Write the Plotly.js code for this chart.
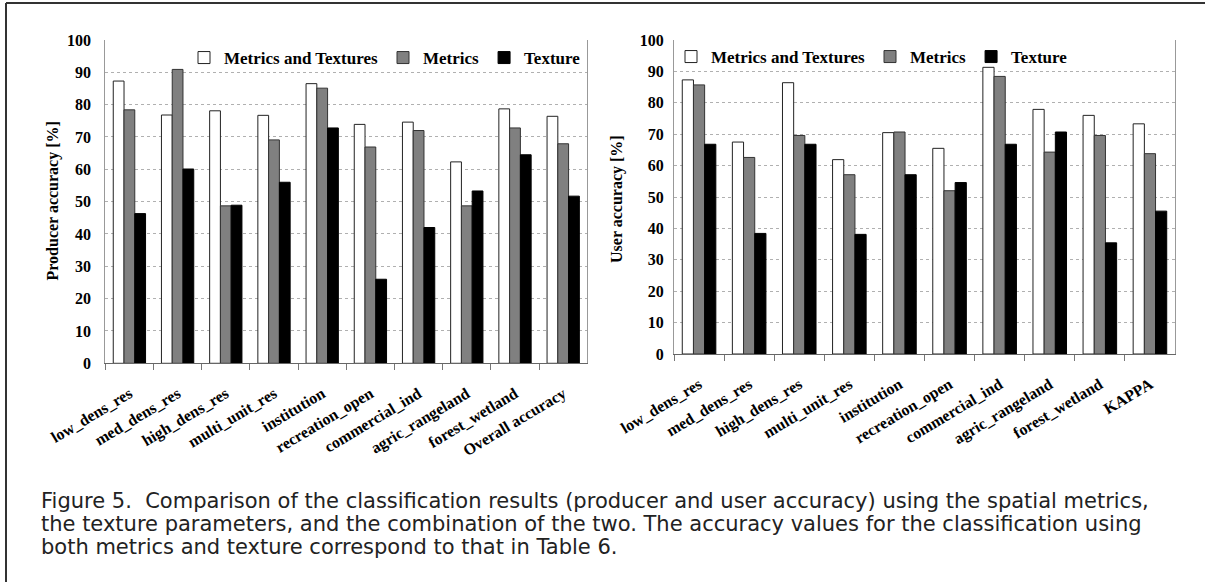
<!DOCTYPE html>
<html>
<head>
<meta charset="utf-8">
<script src="https://cdn.plot.ly/plotly-3.0.1.min.js"></script>
<style>
  html, body { margin: 0; padding: 0; background: #fff; }
  #chart { width: 1205px; height: 582px; }
</style>
</head>
<body>
<div id="chart"></div>
<script>
// ---- data ----
var producerCategories = ["low_dens_res", "med_dens_res", "high_dens_res", "multi_unit_res", "institution",
  "recreation_open", "commercial_ind", "agric_rangeland", "forest_wetland", "Overall accuracy"];
var userCategories = ["low_dens_res", "med_dens_res", "high_dens_res", "multi_unit_res", "institution",
  "recreation_open", "commercial_ind", "agric_rangeland", "forest_wetland", "KAPPA"];
var seriesNames = ["Metrics and Textures", "Metrics", "Texture"];

var producerMetricsTextures = [87.3, 76.8, 78.1, 76.7, 86.5, 73.9, 74.6, 62.3, 78.7, 76.4];
var producerMetrics         = [78.4, 90.9, 48.7, 69.1, 85.1, 66.9, 72.0, 48.7, 72.8, 67.9];
var producerTexture         = [46.3, 60.1, 48.9, 56.0, 72.8, 26.0, 42.0, 53.3, 64.5, 51.7];

var userMetricsTextures = [87.3, 67.5, 86.4, 61.9, 70.5, 65.5, 91.3, 77.9, 76.0, 73.3];
var userMetrics         = [85.7, 62.6, 69.6, 57.1, 70.7, 52.0, 88.4, 64.3, 69.6, 63.8];
var userTexture         = [66.8, 38.4, 66.8, 38.1, 57.1, 54.6, 66.8, 70.7, 35.4, 45.5];

var yTickVals = [0, 10, 20, 30, 40, 50, 60, 70, 80, 90, 100];

var captionLines = [
  "Figure 5.  Comparison of the classification results (producer and user accuracy) using the spatial metrics,",
  "the texture parameters, and the combination of the two. The accuracy values for the classification using",
  "both metrics and texture correspond to that in Table 6."
];

// ---- styles ----
var W = 1205, H = 582;
var serif = "Liberation Serif, Times New Roman, serif";
var fills = ["#ffffff", "#808080", "#000000"];
var edges = ["#222222", "#333333", "#000000"];

function px(x) { return x / W; }
function py(y) { return 1 - y / H; }

var traces = [];
var pData = [producerMetricsTextures, producerMetrics, producerTexture];
var uData = [userMetricsTextures, userMetrics, userTexture];
for (var i = 0; i < 3; i++) {
  traces.push({
    type: "bar", x: producerCategories, y: pData[i], name: seriesNames[i],
    xaxis: "x", yaxis: "y", legend: "legend",
    marker: { color: fills[i], line: { color: edges[i], width: 1 } },
    hoverinfo: "x+y+name"
  });
}
for (var j = 0; j < 3; j++) {
  traces.push({
    type: "bar", x: userCategories, y: uData[j], name: seriesNames[j],
    xaxis: "x2", yaxis: "y2", legend: "legend2",
    marker: { color: fills[j], line: { color: edges[j], width: 1 } },
    hoverinfo: "x+y+name"
  });
}

var tickFont = { family: serif, size: 16, color: "#000", weight: "bold" };

function xAxis(domain, anchor) {
  return {
    domain: domain, anchor: anchor, type: "category",
    showline: true, linecolor: "#666", linewidth: 1,
    ticks: "outside", tickson: "boundaries", ticklen: 6, tickcolor: "#777",
    tickangle: -31, tickfont: tickFont, ticklabelstandoff: 14,
    showgrid: false, zeroline: false, fixedrange: true
  };
}
function yAxis(domain, anchor, standoff) {
  return {
    domain: domain, anchor: anchor, range: [0, 100], tickvals: yTickVals,
    showline: true, linecolor: "#999", linewidth: 1, mirror: true,
    ticks: "", tickfont: tickFont, ticklabelstandoff: standoff,
    showgrid: true, gridcolor: "#b0b0b0", griddash: "dot", gridwidth: 1,
    zeroline: false, fixedrange: true
  };
}

var legendFont = { family: serif, size: 17, color: "#000", weight: "bold" };

var annotations = [
  { text: "Producer accuracy [%]", xref: "paper", yref: "paper", x: px(52), y: py(201.5),
    xanchor: "center", yanchor: "middle",
    textangle: -90, showarrow: false, font: { family: serif, size: 16, color: "#000", weight: "bold" } },
  { text: "User accuracy [%]", xref: "paper", yref: "paper", x: px(617), y: py(199),
    xanchor: "center", yanchor: "middle",
    textangle: -90, showarrow: false, font: { family: serif, size: 16, color: "#000", weight: "bold" } }
];
var capY = [501, 524, 547];
for (var k = 0; k < captionLines.length; k++) {
  annotations.push({
    text: captionLines[k], xref: "paper", yref: "paper", x: px(39), y: py(capY[k]),
    xanchor: "left", yanchor: "middle", showarrow: false,
    font: { family: "DejaVu Sans, Verdana, sans-serif", size: 21, color: "#222" }
  });
}

var layout = {
  width: W, height: H,
  margin: { l: 0, r: 0, t: 0, b: 0 },
  paper_bgcolor: "#ffffff", plot_bgcolor: "#ffffff",
  barmode: "group", bargap: 0.33, bargroupgap: 0,
  showlegend: true,
  xaxis: xAxis([px(105.3), px(587.3)], "y"),
  yaxis: yAxis([py(363.3), py(40)], "x", 10),
  xaxis2: xAxis([px(674), px(1175)], "y2"),
  yaxis2: yAxis([py(354), py(40)], "x2", 6),
  legend: { orientation: "h", x: px(184), y: py(58), xanchor: "left", yanchor: "middle",
    bgcolor: "rgba(0,0,0,0)", font: legendFont, traceorder: "normal" },
  legend2: { orientation: "h", x: px(671), y: py(57), xanchor: "left", yanchor: "middle",
    bgcolor: "rgba(0,0,0,0)", font: legendFont, traceorder: "normal" },
  annotations: annotations,
  shapes: [
    { type: "line", xref: "paper", yref: "paper", x0: px(6), x1: 1, y0: py(3), y1: py(3),
      line: { color: "#333", width: 2 } },
    { type: "line", xref: "paper", yref: "paper", x0: px(6), x1: px(6), y0: py(3), y1: 0,
      line: { color: "#333", width: 2 } }
  ]
};

Plotly.newPlot("chart", traces, layout, { displayModeBar: false, staticPlot: true });
</script>
</body>
</html>
